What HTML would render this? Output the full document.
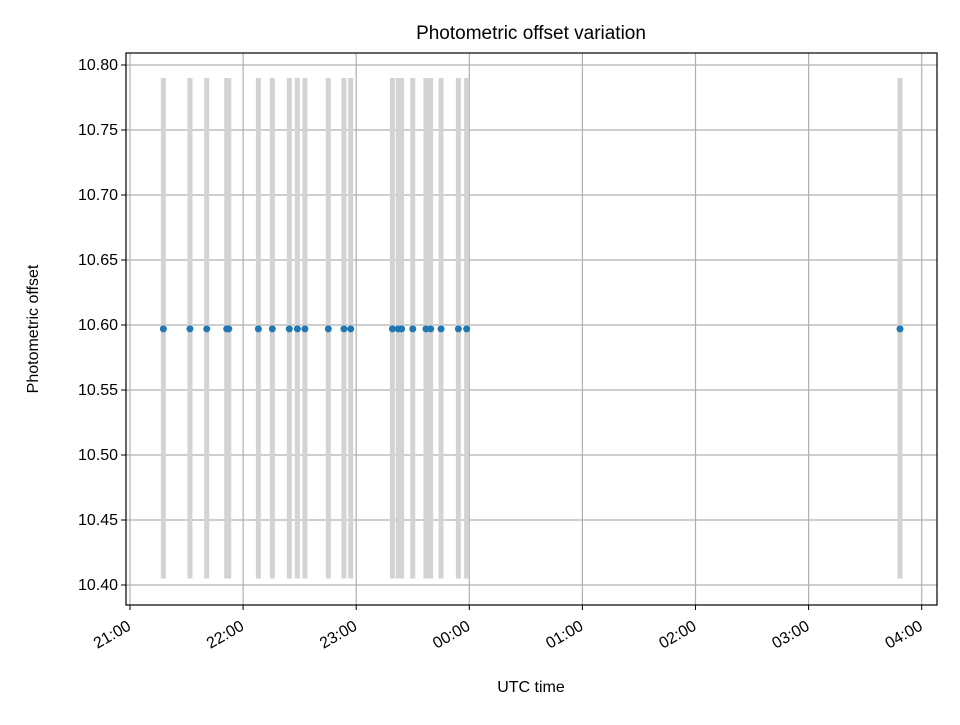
<!DOCTYPE html>
<html><head><meta charset="utf-8"><style>
body{margin:0;background:#fff}
svg text{font-family:"Liberation Sans","DejaVu Sans",sans-serif;fill:#000}
</style></head><body>
<svg id="c" width="960" height="720"></svg>
<script>
const times=[17.7,31.8,40.7,51.3,52.4,68.1,75.5,84.5,88.8,92.8,105.2,113.5,117.1,139.2,142.3,144.1,150,157,159.5,165,174.2,178.6,408.5];
const offsets=times.map(()=>10.597);
const errLow=10.405, errHigh=10.79;
const yTicks=[10.40,10.45,10.50,10.55,10.60,10.65,10.70,10.75,10.80];
const xTickLabels=["21:00","22:00","23:00","00:00","01:00","02:00","03:00","04:00"];
const L=126,R=937,T=53,B=605;
const X=m=>130+m*113.1/60;
const Y=v=>585-(v-10.40)*1300;
const s=document.getElementById('c');const NS="http://www.w3.org/2000/svg";
function el(t,a,p){const e=document.createElementNS(NS,t);for(const k in a)e.setAttribute(k,a[k]);(p||s).appendChild(e);return e;}
yTicks.forEach(v=>{const g=el('line',{x1:L,x2:R,y1:Y(v),y2:Y(v),stroke:'#b0b0b0','stroke-width':1.2});
});
xTickLabels.forEach((t,i)=>{const g=el('line',{x1:X(i*60),x2:X(i*60),y1:T,y2:B,stroke:'#b0b0b0','stroke-width':1.2});
});
times.forEach(m=>{const r=el('rect',{x:X(m)-2.5,y:Y(errHigh),width:5,height:Y(errLow)-Y(errHigh),fill:'#d3d3d3'});
});
times.forEach((m,i)=>{const c=el('circle',{cx:X(m),cy:Y(offsets[i]),r:3.5,fill:'#1f77b4'});
});
const f=el('rect',{x:L,y:T,width:R-L,height:B-T,fill:'none',stroke:'#000','stroke-width':1.2});

yTicks.forEach(v=>{el('line',{x1:L-5,x2:L,y1:Y(v),y2:Y(v),stroke:'#000'});
const t=el('text',{x:L-8,y:Y(v)+5,'text-anchor':'end','font-size':16});t.textContent=v.toFixed(2);
});
xTickLabels.forEach((lab,i)=>{const x=X(i*60);el('line',{x1:x,x2:x,y1:B,y2:B+5,stroke:'#000'});
const ax=x+2,ay=B+24;
const t=el('text',{x:ax,y:ay,'text-anchor':'end','font-size':16,transform:`rotate(-30 ${ax} ${ay})`});t.textContent=lab;
});
let t=el('text',{x:531,y:39,'text-anchor':'middle','font-size':19});t.textContent='Photometric offset variation';

t=el('text',{x:531,y:692,'text-anchor':'middle','font-size':16});t.textContent='UTC time';

t=el('text',{x:38,y:329,'text-anchor':'middle','font-size':16,transform:'rotate(-90 38 329)'});t.textContent='Photometric offset';

</script>
</body></html>
